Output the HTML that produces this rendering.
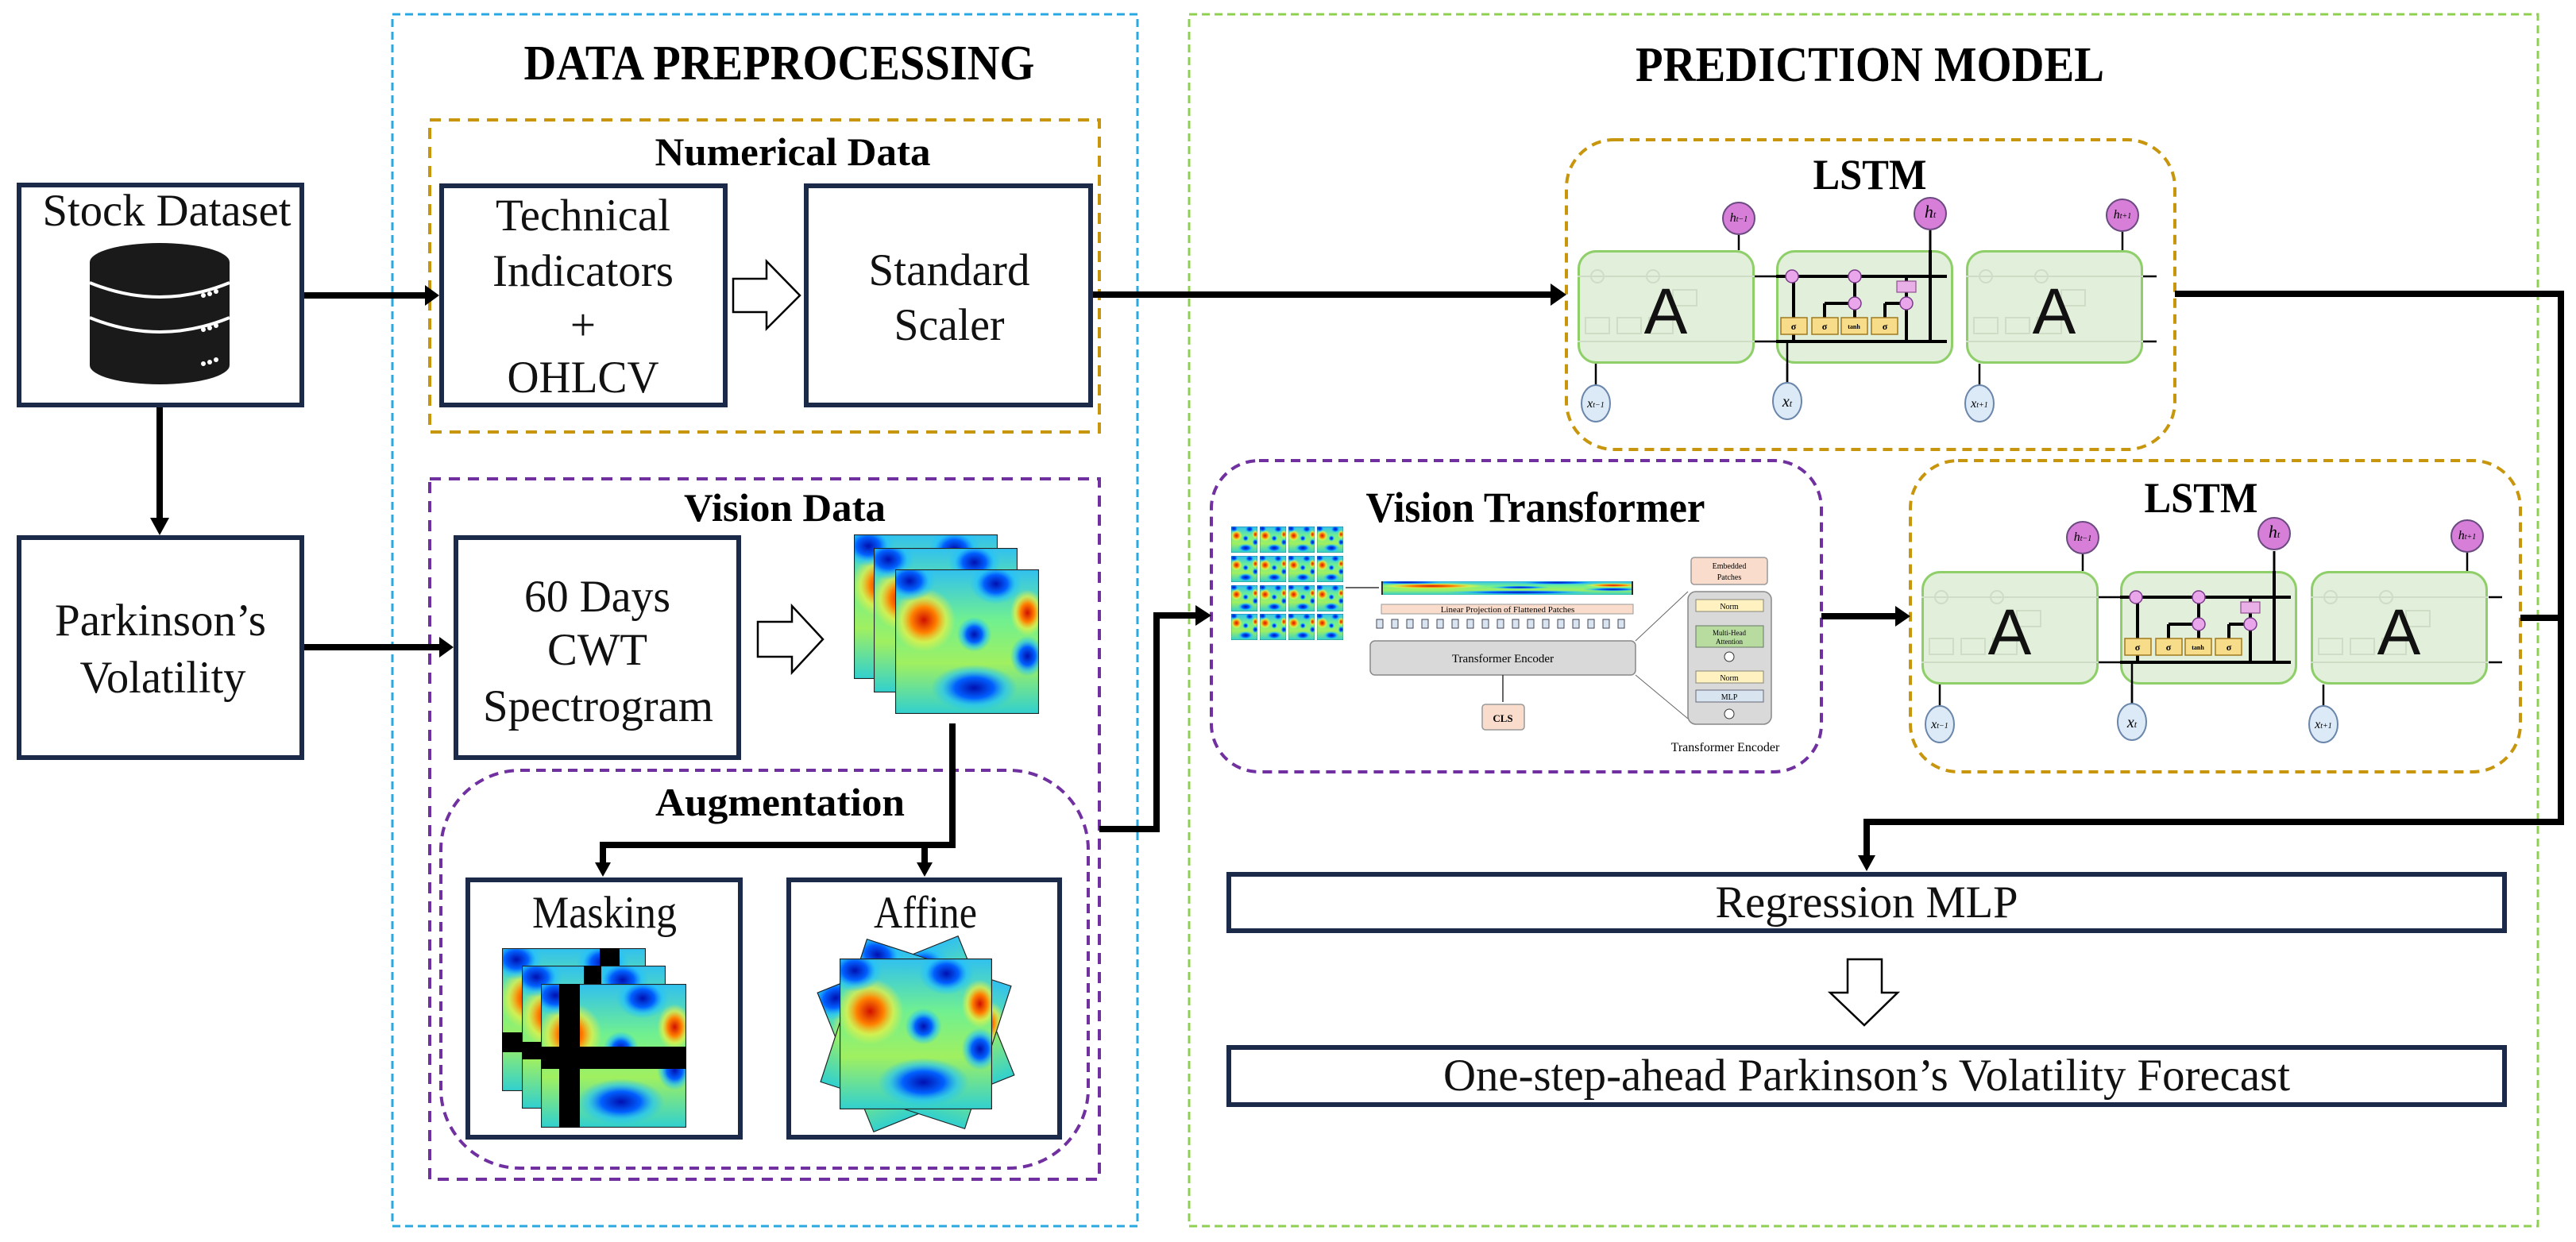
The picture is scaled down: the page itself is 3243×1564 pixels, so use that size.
<!DOCTYPE html>
<html><head><meta charset="utf-8"><style>html,body{margin:0;padding:0;background:#fff}svg{display:block}</style></head>
<body>
<svg xmlns="http://www.w3.org/2000/svg" width="3243" height="1564" viewBox="0 0 3243 1564" font-family="Liberation Serif, serif">
<defs>
<linearGradient id="bg" x1="0" y1="0" x2="0" y2="1">
<stop offset="0" stop-color="#30c0f0"/><stop offset="0.35" stop-color="#70f090"/><stop offset="0.65" stop-color="#a0f060"/><stop offset="1" stop-color="#30d0d0"/></linearGradient>
<radialGradient id="rb"><stop offset="0" stop-color="#d01000"/><stop offset="0.4" stop-color="#ff8000"/><stop offset="0.7" stop-color="#f0f040" stop-opacity="0.7"/><stop offset="1" stop-color="#f0f040" stop-opacity="0"/></radialGradient>
<radialGradient id="bb"><stop offset="0" stop-color="#0010b0"/><stop offset="0.45" stop-color="#0060ff"/><stop offset="0.75" stop-color="#20c0ff" stop-opacity="0.6"/><stop offset="1" stop-color="#20c0ff" stop-opacity="0"/></radialGradient>
<symbol id="spec" viewBox="0 0 100 100" preserveAspectRatio="none">
<rect width="100" height="100" fill="url(#bg)"/>
<ellipse cx="20" cy="35" rx="22" ry="22" fill="url(#rb)"/>
<ellipse cx="70" cy="10" rx="18" ry="14" fill="url(#bb)"/>
<ellipse cx="10" cy="8" rx="18" ry="14" fill="url(#bb)"/>
<ellipse cx="55" cy="45" rx="12" ry="12" fill="url(#bb)"/>
<ellipse cx="55" cy="82" rx="30" ry="16" fill="url(#bb)"/>
<ellipse cx="92" cy="30" rx="12" ry="16" fill="url(#rb)"/>
<ellipse cx="92" cy="60" rx="12" ry="14" fill="url(#bb)"/>
<rect width="100" height="100" fill="none" stroke="#222" stroke-width="1.2"/>
</symbol>
<symbol id="cellA" viewBox="0 0 223 143">
<rect x="1.5" y="1.5" width="220" height="140" rx="22" fill="#e2efda" stroke="#8fcf6a" stroke-width="3"/>
<g stroke="#cfdcc6" stroke-width="2" fill="none"><line x1="0" y1="33" x2="223" y2="33"/><line x1="0" y1="115" x2="223" y2="115"/><rect x="120" y="50" width="30" height="20"/><circle cx="25" cy="33" r="8"/><circle cx="95" cy="33" r="8"/><rect x="10" y="85" width="30" height="20"/><rect x="50" y="85" width="30" height="20"/><rect x="90" y="85" width="30" height="20"/></g>
<text x="111" y="105" text-anchor="middle" font-family="Liberation Sans, sans-serif" font-size="82" fill="#111">A</text>
</symbol>
<symbol id="cellM" viewBox="0 0 223 143">
<rect x="1.5" y="1.5" width="220" height="140" rx="22" fill="#e2efda" stroke="#8fcf6a" stroke-width="3"/>
<g stroke="#000" stroke-width="4" fill="none">
<line x1="0" y1="33" x2="215" y2="33"/><line x1="0" y1="115" x2="215" y2="115"/>
<line x1="22" y1="115" x2="22" y2="33"/><line x1="61" y1="106" x2="61" y2="67" /><line x1="61" y1="67" x2="92" y2="67"/>
<line x1="99" y1="85" x2="99" y2="33"/><line x1="137" y1="85" x2="137" y2="67"/><line x1="137" y1="67" x2="157" y2="67"/>
<line x1="164" y1="33" x2="164" y2="115"/><line x1="194" y1="115" x2="194" y2="0"/><line x1="164" y1="115" x2="215" y2="115"/></g>
<g fill="#f7dc8a" stroke="#a07a20" stroke-width="1.5"><rect x="6" y="85" width="33" height="21"/><rect x="45" y="85" width="33" height="21"/><rect x="82" y="85" width="33" height="21"/><rect x="120" y="85" width="33" height="21"/></g>
<g font-size="12" text-anchor="middle" font-weight="bold"><text x="22" y="100">σ</text><text x="61" y="100">σ</text><text x="98" y="99" font-size="8">tanh</text><text x="137" y="100">σ</text></g>
<rect x="152" y="39" width="24" height="14" fill="#e9b0e8" stroke="#905090" stroke-width="1.2"/>
<g fill="#e9a6ea" stroke="#7a3a8a" stroke-width="1.5"><circle cx="20" cy="33" r="8"/><circle cx="99" cy="33" r="8"/><circle cx="99" cy="67" r="8"/><circle cx="164" cy="67" r="8"/></g>
</symbol>
<symbol id="hc" viewBox="0 0 44 44"><circle cx="22" cy="22" r="20" fill="#d77ed8" stroke="#6a4a80" stroke-width="2"/></symbol>
<symbol id="xc" viewBox="0 0 44 50"><ellipse cx="22" cy="25" rx="18" ry="23" fill="#dce9f6" stroke="#6a86aa" stroke-width="2"/></symbol>
</defs>

<!-- Big dashed containers -->
<rect x="494" y="18" width="938" height="1526" fill="none" stroke="#2aa8e0" stroke-width="3" stroke-dasharray="10,6"/>
<rect x="1497" y="18" width="1698" height="1526" fill="none" stroke="#8fd050" stroke-width="3" stroke-dasharray="10,6"/>
<text x="981" y="100" text-anchor="middle" font-size="62" font-weight="bold" textLength="643" lengthAdjust="spacingAndGlyphs">DATA PREPROCESSING</text>
<text x="2354" y="102" text-anchor="middle" font-size="62" font-weight="bold" textLength="590" lengthAdjust="spacingAndGlyphs">PREDICTION MODEL</text>

<!-- Numerical data -->
<rect x="541" y="151" width="843" height="393" fill="none" stroke="#c8960c" stroke-width="4" stroke-dasharray="14,10"/>
<text x="998" y="208" text-anchor="middle" font-size="50" font-weight="bold" textLength="347" lengthAdjust="spacingAndGlyphs">Numerical Data</text>
<g fill="#fff" stroke="#1c2a4a" stroke-width="6">
<rect x="24" y="233" width="356" height="277"/>
<rect x="24" y="677" width="356" height="277"/>
<rect x="556" y="234" width="357" height="276"/>
<rect x="1015" y="234" width="358" height="276"/>
<rect x="574" y="677" width="356" height="277"/>
<rect x="589" y="1108" width="343" height="324"/>
<rect x="993" y="1108" width="341" height="324"/>
<rect x="1547" y="1101" width="1606" height="71"/>
<rect x="1547" y="1319" width="1606" height="72"/>
</g>
<g font-size="57" text-anchor="middle" fill="#111">
<text x="210" y="284" textLength="313" lengthAdjust="spacingAndGlyphs">Stock Dataset</text>
<text x="734" y="290" textLength="220" lengthAdjust="spacingAndGlyphs">Technical</text>
<text x="734" y="360" textLength="228" lengthAdjust="spacingAndGlyphs">Indicators</text>
<text x="734" y="428">+</text>
<text x="734" y="494" textLength="191" lengthAdjust="spacingAndGlyphs">OHLCV</text>
<text x="1195" y="359" textLength="203" lengthAdjust="spacingAndGlyphs">Standard</text>
<text x="1195" y="428" textLength="139" lengthAdjust="spacingAndGlyphs">Scaler</text>
<text x="202" y="800" textLength="266" lengthAdjust="spacingAndGlyphs">Parkinson’s</text>
<text x="205" y="872" textLength="209" lengthAdjust="spacingAndGlyphs">Volatility</text>
<text x="752" y="770" textLength="184" lengthAdjust="spacingAndGlyphs">60 Days</text>
<text x="752" y="837" textLength="126" lengthAdjust="spacingAndGlyphs">CWT</text>
<text x="753" y="908" textLength="290" lengthAdjust="spacingAndGlyphs">Spectrogram</text>
<text x="761" y="1168" textLength="182" lengthAdjust="spacingAndGlyphs">Masking</text>
<text x="1165" y="1168" textLength="130" lengthAdjust="spacingAndGlyphs">Affine</text>
<text x="2350" y="1155" textLength="381" lengthAdjust="spacingAndGlyphs">Regression MLP</text>
<text x="2350" y="1373" textLength="1066" lengthAdjust="spacingAndGlyphs">One-step-ahead Parkinson’s Volatility Forecast</text>
</g>

<!-- database icon -->
<g>
<rect x="113" y="330" width="176" height="130" fill="#1a1a1a"/>
<ellipse cx="201" cy="460" rx="88" ry="24" fill="#1a1a1a"/>
<ellipse cx="201" cy="330" rx="88" ry="24" fill="#1a1a1a"/>
<path d="M113 356 Q201 392 289 356" stroke="#fff" stroke-width="4" fill="none"/>
<path d="M113 400 Q201 436 289 400" stroke="#fff" stroke-width="4" fill="none"/>
<g fill="#fff"><circle cx="256" cy="372" r="3"/><circle cx="264" cy="370" r="3"/><circle cx="272" cy="367" r="3"/><circle cx="256" cy="415" r="3"/><circle cx="264" cy="413" r="3"/><circle cx="272" cy="410" r="3"/><circle cx="256" cy="458" r="3"/><circle cx="264" cy="456" r="3"/><circle cx="272" cy="453" r="3"/></g>
</g>

<!-- hollow arrows -->
<g fill="#fff" stroke="#000" stroke-width="2.5">
<polygon points="923,351 965,351 965,329 1007,372 965,414 965,393 923,393"/>
<polygon points="954,783 997,783 997,763 1036,805 997,847 997,827 954,827"/>
<polygon points="2326,1208 2369,1208 2369,1250 2389,1250 2347,1291 2304,1250 2326,1250"/>
</g>

<!-- Vision data -->
<rect x="541" y="603" width="843" height="882" fill="none" stroke="#7030a0" stroke-width="4" stroke-dasharray="14,10"/>
<text x="988" y="656" text-anchor="middle" font-size="50" font-weight="bold" textLength="254" lengthAdjust="spacingAndGlyphs">Vision Data</text>
<use href="#spec" x="1075" y="673" width="181" height="182"/>
<use href="#spec" x="1100" y="690" width="181" height="182"/>
<use href="#spec" x="1127" y="717" width="181" height="182"/>

<rect x="555" y="970" width="815" height="501" rx="100" fill="none" stroke="#7030a0" stroke-width="4" stroke-dasharray="12,8"/>
<text x="982" y="1027" text-anchor="middle" font-size="50" font-weight="bold" textLength="314" lengthAdjust="spacingAndGlyphs">Augmentation</text>

<!-- masking cards -->
<g>
<use href="#spec" x="632" y="1194" width="181" height="180"/>
<rect x="755" y="1194" width="25" height="180" fill="#000"/><rect x="632" y="1300" width="181" height="25" fill="#000"/>
<use href="#spec" x="657" y="1216" width="181" height="180"/>
<rect x="735" y="1216" width="22" height="180" fill="#000"/><rect x="657" y="1312" width="181" height="22" fill="#000"/>
<use href="#spec" x="681" y="1239" width="183" height="181"/>
<rect x="704" y="1239" width="26" height="181" fill="#000"/><rect x="681" y="1318" width="183" height="28" fill="#000"/>
</g>
<!-- affine cards -->
<g>
<use href="#spec" x="1057" y="1207" width="192" height="190" transform="rotate(-22 1153 1302)"/>
<use href="#spec" x="1057" y="1207" width="192" height="190" transform="rotate(18 1153 1302)"/>
<use href="#spec" x="1057" y="1207" width="192" height="190"/>
</g>

<!-- LSTM 1 -->
<rect x="1972" y="176" width="766" height="390" rx="60" fill="none" stroke="#c8960c" stroke-width="4" stroke-dasharray="12,8"/>
<text x="2354" y="238" text-anchor="middle" font-size="54" font-weight="bold" textLength="143" lengthAdjust="spacingAndGlyphs">LSTM</text>
<g stroke="#000" stroke-width="2.5">
<line x1="2189" y1="315" x2="2189" y2="296"/><line x1="2672" y1="315" x2="2672" y2="292"/>
<line x1="2009" y1="458" x2="2009" y2="486"/><line x1="2250" y1="458" x2="2250" y2="484"/><line x1="2492" y1="458" x2="2492" y2="486"/>
<line x1="2209" y1="348" x2="2236" y2="348"/><line x1="2209" y1="430" x2="2236" y2="430"/>
<line x1="2698" y1="348" x2="2715" y2="348"/><line x1="2698" y1="430" x2="2715" y2="430"/></g>
<use href="#cellA" x="1986" y="315" width="223" height="143"/>
<use href="#cellM" x="2236" y="315" width="223" height="143"/>
<use href="#cellA" x="2475" y="315" width="223" height="143"/>
<line x1="2250" y1="430" x2="2250" y2="484" stroke="#000" stroke-width="2.5"/>
<line x1="2430" y1="315" x2="2430" y2="290" stroke="#000" stroke-width="3"/>
<use href="#hc" x="2167" y="253" width="44" height="44"/><use href="#hc" x="2408" y="247" width="44" height="44"/><use href="#hc" x="2650" y="249" width="44" height="44"/>
<use href="#xc" x="1987" y="483" width="44" height="50"/><use href="#xc" x="2228" y="480" width="44" height="50"/><use href="#xc" x="2470" y="483" width="44" height="50"/>
<g font-size="16" font-style="italic" text-anchor="middle"><text x="2189" y="279">h<tspan font-size="10">t−1</tspan></text><text x="2430" y="274" font-size="22">h<tspan font-size="12">t</tspan></text><text x="2672" y="275">h<tspan font-size="10">t+1</tspan></text>
<text x="2009" y="513">x<tspan font-size="10">t−1</tspan></text><text x="2250" y="512" font-size="20">x<tspan font-size="12">t</tspan></text><text x="2492" y="513">x<tspan font-size="10">t+1</tspan></text></g>

<!-- LSTM 2 -->
<rect x="2405" y="580" width="768" height="392" rx="60" fill="none" stroke="#c8960c" stroke-width="4" stroke-dasharray="12,8"/>
<text x="2771" y="645" text-anchor="middle" font-size="54" font-weight="bold" textLength="143" lengthAdjust="spacingAndGlyphs">LSTM</text>
<g stroke="#000" stroke-width="2.5">
<line x1="2622" y1="719" x2="2622" y2="698"/><line x1="3106" y1="719" x2="3106" y2="696"/>
<line x1="2442" y1="862" x2="2442" y2="890"/><line x1="2684" y1="862" x2="2684" y2="888"/><line x1="2925" y1="862" x2="2925" y2="890"/>
<line x1="2642" y1="752" x2="2669" y2="752"/><line x1="2642" y1="834" x2="2669" y2="834"/>
<line x1="3133" y1="752" x2="3150" y2="752"/><line x1="3133" y1="834" x2="3150" y2="834"/></g>
<use href="#cellA" x="2419" y="719" width="223" height="143"/>
<use href="#cellM" x="2669" y="719" width="223" height="143"/>
<use href="#cellA" x="2909" y="719" width="223" height="143"/>
<line x1="2684" y1="834" x2="2684" y2="888" stroke="#000" stroke-width="2.5"/>
<line x1="2863" y1="719" x2="2863" y2="694" stroke="#000" stroke-width="3"/>
<use href="#hc" x="2600" y="655" width="44" height="44"/><use href="#hc" x="2841" y="650" width="44" height="44"/><use href="#hc" x="3084" y="653" width="44" height="44"/>
<use href="#xc" x="2420" y="887" width="44" height="50"/><use href="#xc" x="2662" y="884" width="44" height="50"/><use href="#xc" x="2903" y="887" width="44" height="50"/>
<g font-size="16" font-style="italic" text-anchor="middle"><text x="2622" y="681">h<tspan font-size="10">t−1</tspan></text><text x="2863" y="677" font-size="22">h<tspan font-size="12">t</tspan></text><text x="3106" y="679">h<tspan font-size="10">t+1</tspan></text>
<text x="2442" y="917">x<tspan font-size="10">t−1</tspan></text><text x="2684" y="916" font-size="20">x<tspan font-size="12">t</tspan></text><text x="2925" y="917">x<tspan font-size="10">t+1</tspan></text></g>

<!-- Vision Transformer -->
<rect x="1525" y="580" width="768" height="392" rx="60" fill="none" stroke="#7030a0" stroke-width="4" stroke-dasharray="12,8"/>
<text x="1933" y="657" text-anchor="middle" font-size="54" font-weight="bold" textLength="427" lengthAdjust="spacingAndGlyphs">Vision Transformer</text>
<g>
<use href="#spec" x="1550" y="663" width="33" height="33"/><use href="#spec" x="1586" y="663" width="33" height="33"/><use href="#spec" x="1622" y="663" width="33" height="33"/><use href="#spec" x="1658" y="663" width="33" height="33"/>
<use href="#spec" x="1550" y="700" width="33" height="33"/><use href="#spec" x="1586" y="700" width="33" height="33"/><use href="#spec" x="1622" y="700" width="33" height="33"/><use href="#spec" x="1658" y="700" width="33" height="33"/>
<use href="#spec" x="1550" y="737" width="33" height="33"/><use href="#spec" x="1586" y="737" width="33" height="33"/><use href="#spec" x="1622" y="737" width="33" height="33"/><use href="#spec" x="1658" y="737" width="33" height="33"/>
<use href="#spec" x="1550" y="773" width="33" height="33"/><use href="#spec" x="1586" y="773" width="33" height="33"/><use href="#spec" x="1622" y="773" width="33" height="33"/><use href="#spec" x="1658" y="773" width="33" height="33"/>
</g>
<line x1="1694" y1="740" x2="1736" y2="740" stroke="#333" stroke-width="1.5"/>
<use href="#spec" x="1739" y="732" width="317" height="17"/>
<rect x="1739" y="761" width="317" height="12" fill="#f9dccb" stroke="#999" stroke-width="1"/>
<text x="1898" y="771" text-anchor="middle" font-size="11">Linear Projection of Flattened Patches</text>
<g fill="#d8e4f0" stroke="#445" stroke-width="1">
<rect x="1733" y="780" width="8" height="11"/><rect x="1752" y="780" width="8" height="11"/><rect x="1771" y="780" width="8" height="11"/><rect x="1790" y="780" width="8" height="11"/><rect x="1809" y="780" width="8" height="11"/><rect x="1828" y="780" width="8" height="11"/><rect x="1847" y="780" width="8" height="11"/><rect x="1866" y="780" width="8" height="11"/><rect x="1885" y="780" width="8" height="11"/><rect x="1904" y="780" width="8" height="11"/><rect x="1923" y="780" width="8" height="11"/><rect x="1942" y="780" width="8" height="11"/><rect x="1961" y="780" width="8" height="11"/><rect x="1980" y="780" width="8" height="11"/><rect x="1999" y="780" width="8" height="11"/><rect x="2018" y="780" width="8" height="11"/><rect x="2037" y="780" width="8" height="11"/></g>
<rect x="1725" y="807" width="334" height="43" rx="6" fill="#d9d9d9" stroke="#888" stroke-width="1.5"/>
<text x="1892" y="834" text-anchor="middle" font-size="15">Transformer Encoder</text>
<line x1="1892" y1="850" x2="1892" y2="884" stroke="#333" stroke-width="1.5"/>
<rect x="1866" y="887" width="53" height="32" rx="4" fill="#f9dccb" stroke="#999" stroke-width="1.5"/>
<text x="1892" y="909" text-anchor="middle" font-size="13" font-weight="bold">CLS</text>
<line x1="2059" y1="807" x2="2125" y2="745" stroke="#666" stroke-width="1"/><line x1="2059" y1="850" x2="2125" y2="905" stroke="#666" stroke-width="1"/>
<rect x="2129" y="702" width="96" height="34" rx="4" fill="#f9dccb" stroke="#999" stroke-width="1.5"/>
<text x="2177" y="716" text-anchor="middle" font-size="10">Embedded</text><text x="2177" y="730" text-anchor="middle" font-size="10">Patches</text>
<rect x="2125" y="745" width="105" height="167" rx="10" fill="#d9d9d9" stroke="#888" stroke-width="1.5"/>
<rect x="2135" y="755" width="85" height="15" fill="#fff2c0" stroke="#887" stroke-width="1"/><text x="2177" y="767" text-anchor="middle" font-size="10">Norm</text>
<rect x="2135" y="788" width="85" height="27" fill="#b8dca0" stroke="#676" stroke-width="1"/><text x="2177" y="800" text-anchor="middle" font-size="9">Multi-Head</text><text x="2177" y="811" text-anchor="middle" font-size="9">Attention</text>
<circle cx="2177" cy="827" r="6" fill="#fff" stroke="#333"/>
<rect x="2135" y="845" width="85" height="15" fill="#fff2c0" stroke="#887" stroke-width="1"/><text x="2177" y="857" text-anchor="middle" font-size="10">Norm</text>
<rect x="2135" y="869" width="85" height="15" fill="#d8e4f0" stroke="#667" stroke-width="1"/><text x="2177" y="881" text-anchor="middle" font-size="10">MLP</text>
<circle cx="2177" cy="899" r="6" fill="#fff" stroke="#333"/>
<text x="2172" y="946" text-anchor="middle" font-size="16">Transformer Encoder</text>

<!-- connectors -->
<g stroke="#000" stroke-width="8" fill="none" stroke-linejoin="miter">
<line x1="383" y1="372" x2="538" y2="372"/>
<line x1="201" y1="513" x2="201" y2="656"/>
<line x1="383" y1="815" x2="556" y2="815"/>
<line x1="1376" y1="371" x2="1954" y2="371"/>
<polyline points="1199,911 1199,1064 759,1064 759,1090"/>
<line x1="1164" y1="1064" x2="1164" y2="1090"/>
<polyline points="1384,1044 1456,1044 1456,775 1507,775"/>
<line x1="2293" y1="776" x2="2388" y2="776"/>
<polyline points="2738,370 3224,370 3224,1035 2350,1035 2350,1080"/>
<line x1="3173" y1="778" x2="3224" y2="778"/>
</g>
<g fill="#000">
<polygon points="535,359 553,372 535,385"/>
<polygon points="189,652 213,652 201,674"/>
<polygon points="553,802 571,815 553,828"/>
<polygon points="1952,357 1972,371 1952,385"/>
<polygon points="749,1086 769,1086 759,1104"/>
<polygon points="1154,1086 1174,1086 1164,1104"/>
<polygon points="1505,762 1525,775 1505,788"/>
<polygon points="2386,763 2405,776 2386,789"/>
<polygon points="2339,1077 2361,1077 2350,1097"/>
</g>
</svg>
</body></html>
